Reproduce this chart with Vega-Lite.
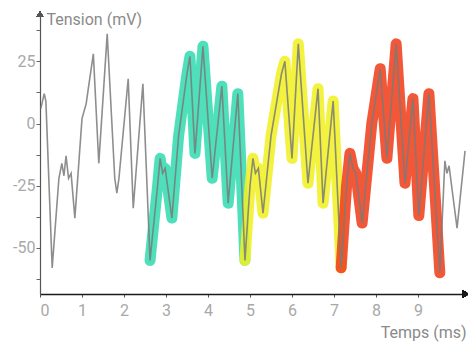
{
  "$schema": "https://vega.github.io/schema/vega-lite/v6.json",
  "width": 426,
  "height": 280,
  "autosize": "none",
  "padding": {"left": 40, "top": 14, "right": 2, "bottom": 51},
  "background": "white",
  "config": {"view": {"stroke": null}, "font": "Roboto"},
  "data": {"values": [
    {"t": 0.02, "v": 6, "seg": "gris1"},
    {"t": 0.1, "v": 12, "seg": "gris1"},
    {"t": 0.14, "v": 9, "seg": "gris1"},
    {"t": 0.29, "v": -58, "seg": "gris1"},
    {"t": 0.45, "v": -22, "seg": "gris1"},
    {"t": 0.52, "v": -16, "seg": "gris1"},
    {"t": 0.57, "v": -21, "seg": "gris1"},
    {"t": 0.62, "v": -13, "seg": "gris1"},
    {"t": 0.68, "v": -22, "seg": "gris1"},
    {"t": 0.74, "v": -20, "seg": "gris1"},
    {"t": 0.83, "v": -38, "seg": "gris1"},
    {"t": 1.0, "v": 2, "seg": "gris1"},
    {"t": 1.1, "v": 8, "seg": "gris1"},
    {"t": 1.15, "v": 14, "seg": "gris1"},
    {"t": 1.27, "v": 28, "seg": "gris1"},
    {"t": 1.4, "v": -16, "seg": "gris1"},
    {"t": 1.6, "v": 36, "seg": "gris1"},
    {"t": 1.78, "v": -22, "seg": "gris1"},
    {"t": 1.83, "v": -28, "seg": "gris1"},
    {"t": 1.88, "v": -22, "seg": "gris1"},
    {"t": 2.1, "v": 18, "seg": "gris1"},
    {"t": 2.22, "v": -34, "seg": "gris1"},
    {"t": 2.45, "v": 16, "seg": "gris1"},
    {"t": 2.62, "v": -55, "seg": "gris1"},
    {"t": 2.62, "v": -55, "seg": "vert"},
    {"t": 2.8, "v": -25, "seg": "vert"},
    {"t": 2.86, "v": -14, "seg": "vert"},
    {"t": 2.92, "v": -20, "seg": "vert"},
    {"t": 2.98, "v": -18, "seg": "vert"},
    {"t": 3.14, "v": -38, "seg": "vert"},
    {"t": 3.3, "v": -5, "seg": "vert"},
    {"t": 3.5, "v": 20, "seg": "vert"},
    {"t": 3.57, "v": 27, "seg": "vert"},
    {"t": 3.69, "v": -12, "seg": "vert"},
    {"t": 3.88, "v": 31, "seg": "vert"},
    {"t": 4.1, "v": -22, "seg": "vert"},
    {"t": 4.33, "v": 15, "seg": "vert"},
    {"t": 4.48, "v": -32, "seg": "vert"},
    {"t": 4.71, "v": 12, "seg": "vert"},
    {"t": 4.88, "v": -55, "seg": "vert"},
    {"t": 4.88, "v": -55, "seg": "jaune"},
    {"t": 5.0, "v": -25, "seg": "jaune"},
    {"t": 5.07, "v": -14, "seg": "jaune"},
    {"t": 5.13, "v": -20, "seg": "jaune"},
    {"t": 5.2, "v": -18, "seg": "jaune"},
    {"t": 5.31, "v": -36, "seg": "jaune"},
    {"t": 5.5, "v": -5, "seg": "jaune"},
    {"t": 5.75, "v": 20, "seg": "jaune"},
    {"t": 5.83, "v": 25, "seg": "jaune"},
    {"t": 6.0, "v": -14, "seg": "jaune"},
    {"t": 6.15, "v": 32, "seg": "jaune"},
    {"t": 6.38, "v": -24, "seg": "jaune"},
    {"t": 6.62, "v": 14, "seg": "jaune"},
    {"t": 6.74, "v": -32, "seg": "jaune"},
    {"t": 6.98, "v": 9, "seg": "jaune"},
    {"t": 7.17, "v": -58, "seg": "jaune"},
    {"t": 7.17, "v": -58, "seg": "rouge"},
    {"t": 7.3, "v": -25, "seg": "rouge"},
    {"t": 7.38, "v": -12, "seg": "rouge"},
    {"t": 7.45, "v": -18, "seg": "rouge"},
    {"t": 7.52, "v": -20, "seg": "rouge"},
    {"t": 7.67, "v": -40, "seg": "rouge"},
    {"t": 7.9, "v": 0, "seg": "rouge"},
    {"t": 8.1, "v": 22, "seg": "rouge"},
    {"t": 8.26, "v": -14, "seg": "rouge"},
    {"t": 8.48, "v": 32, "seg": "rouge"},
    {"t": 8.69, "v": -24, "seg": "rouge"},
    {"t": 8.88, "v": 10, "seg": "rouge"},
    {"t": 9.02, "v": -37, "seg": "rouge"},
    {"t": 9.26, "v": 12, "seg": "rouge"},
    {"t": 9.52, "v": -60, "seg": "rouge"},
    {"t": 9.52, "v": -60, "seg": "gris2"},
    {"t": 9.64, "v": -15, "seg": "gris2"},
    {"t": 9.69, "v": -20, "seg": "gris2"},
    {"t": 9.74, "v": -17, "seg": "gris2"},
    {"t": 9.8, "v": -25, "seg": "gris2"},
    {"t": 9.93, "v": -42, "seg": "gris2"},
    {"t": 10.12, "v": -11, "seg": "gris2"}
  ]},
  "encoding": {
    "x": {"field": "t", "type": "quantitative",
      "scale": {"domain": [0, 10.143], "nice": false, "zero": false},
      "axis": {"values": [0,1,2,3,4,5,6,7,8,9], "grid": false, "domainColor": "#1a1a1a", "domainWidth": 1.6,
        "tickColor": "#555", "tickSize": 3, "labelColor": "#a8a8a8", "labelFontSize": 16, "labelPadding": 5,
        "labelFontWeight": "normal",
        "title": "Temps (ms)", "titleAngle": 0, "titleAlign": "right", "titleBaseline": "middle",
        "titleX": 426, "titleY": 38, "titleColor": "#8a8a8a", "titleFontSize": 16, "titleFontWeight": "normal"}},
    "y": {"field": "v", "type": "quantitative",
      "scale": {"domain": [-68.5, 44], "nice": false, "zero": false},
      "axis": {"values": [-62.5,-50,-37.5,-25,-12.5,0,12.5,25,37.5], "grid": false,
        "labelExpr": "datum.value % 25 == 0 ? toString(datum.value) : ''",
        "domainColor": "#555", "domainWidth": 1.2, "tickColor": "#666", "tickSize": 4,
        "labelColor": "#a8a8a8", "labelFontSize": 16, "labelPadding": 1,
        "title": "Tension (mV)", "titleAngle": 0, "titleAlign": "left", "titleBaseline": "middle",
        "titleX": 6, "titleY": 5, "titleColor": "#8a8a8a", "titleFontSize": 16, "titleFontWeight": "normal"}}
  },
  "layer": [
    {
      "transform": [{"filter": "datum.seg == 'vert' || datum.seg == 'jaune' || datum.seg == 'rouge'"}],
      "mark": {"type": "line", "strokeWidth": 11, "strokeCap": "round", "strokeJoin": "round", "opacity": 0.88},
      "encoding": {
        "color": {"field": "seg", "type": "nominal", "legend": null,
          "scale": {"domain": ["vert", "jaune", "rouge"], "range": ["#35dcb0", "#f0f024", "#f0401c"]}},
        "order": {"field": "t", "type": "quantitative"}
      }
    },
    {
      "mark": {"type": "line", "color": "#7a7a7a", "strokeWidth": 1.6, "opacity": 0.85},
      "encoding": {"order": {"field": "t", "type": "quantitative"}}
    },
    {
      "mark": {"type": "point", "shape": "triangle-up", "filled": true, "color": "#555", "size": 40},
      "encoding": {"x": {"datum": 0}, "y": {"datum": 44}}
    },
    {
      "mark": {"type": "point", "shape": "triangle-right", "filled": true, "color": "#1a1a1a", "size": 50},
      "encoding": {"x": {"datum": 10.143}, "y": {"datum": -68.5}}
    }
  ]
}
